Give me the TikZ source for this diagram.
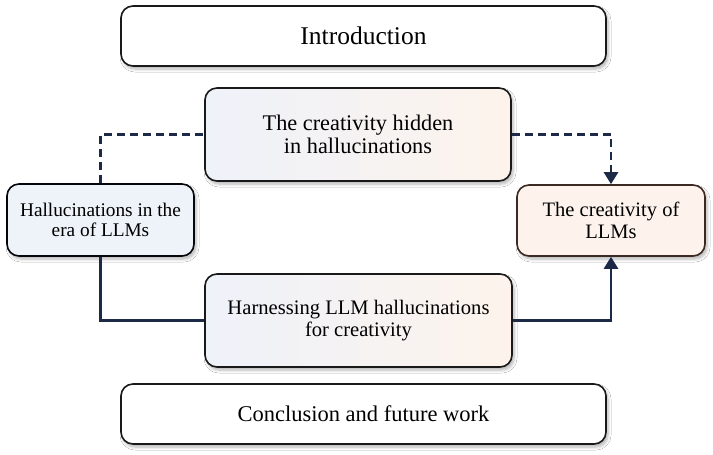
\documentclass[tikz,border=0pt]{standalone}
\usepackage{fontspec}
\setmainfont{Liberation Serif}
\usetikzlibrary{arrows.meta,shadows.blur}
\definecolor{navy}{HTML}{1C2A48}
\definecolor{lblue}{HTML}{EEF2F9}
\definecolor{lpeach}{HTML}{FDF3EC}
\definecolor{brownb}{HTML}{3A2A22}
\tikzset{
  box/.style={draw=black!90, line width=1.6pt, rounded corners=12pt, inner sep=0pt,
    align=center, blur shadow={shadow xshift=2pt, shadow yshift=-3pt, shadow blur steps=6, shadow opacity=30, shadow blur radius=3pt}},
  fs/.style={font=\fontsize{#1}{#1*1.09}\selectfont},
  conn/.style={draw=navy, line width=2.6pt},
  dconn/.style={conn, dash pattern=on 8pt off 5pt},
  tip/.style={-{Triangle[width=14pt,length=12pt]}}
}
\begin{document}
\begin{tikzpicture}[x=1pt,y=-1pt]
\useasboundingbox[fill=white] (0,0) rectangle (713,455);
\node[box, fill=white, minimum width=485pt, minimum height=60pt, font=\fontsize{25.5}{28}\selectfont] (intro) at (363.5,36) {Introduction};
\node[box, left color=lblue, right color=lpeach, minimum width=306pt, minimum height=93pt, font=\fontsize{22.3}{23.5}\selectfont] (hidden) at (358,134.5) {The creativity hidden\\in hallucinations};
\node[box, draw=black!85!navy, fill=lblue, minimum width=187pt, minimum height=72pt, font=\fontsize{19.3}{20.5}\selectfont] (hall) at (100.5,220) {Hallucinations in the\\era of LLMs};
\node[box, draw=brownb, fill=lpeach, minimum width=188pt, minimum height=71pt, font=\fontsize{20.5}{21.5}\selectfont] (creat) at (611,220.5) {The creativity of\\LLMs};
\node[box, left color=lblue, right color=lpeach, minimum width=307pt, minimum height=93pt, font=\fontsize{20.6}{22.5}\selectfont] (harness) at (358.5,320.5) {Harnessing LLM hallucinations\\for creativity};
\node[box, fill=white, minimum width=485pt, minimum height=60pt, font=\fontsize{22.5}{24}\selectfont] (concl) at (363.5,414) {Conclusion and future work};
\draw[dconn] (hall.north) |- (hidden.west);
\draw[dconn, tip] (hidden.east) -| (creat.north);
\draw[conn] (hall.south) |- (harness.west);
\draw[conn, tip] (harness.east) -| (creat.south);
\end{tikzpicture}
\end{document}
